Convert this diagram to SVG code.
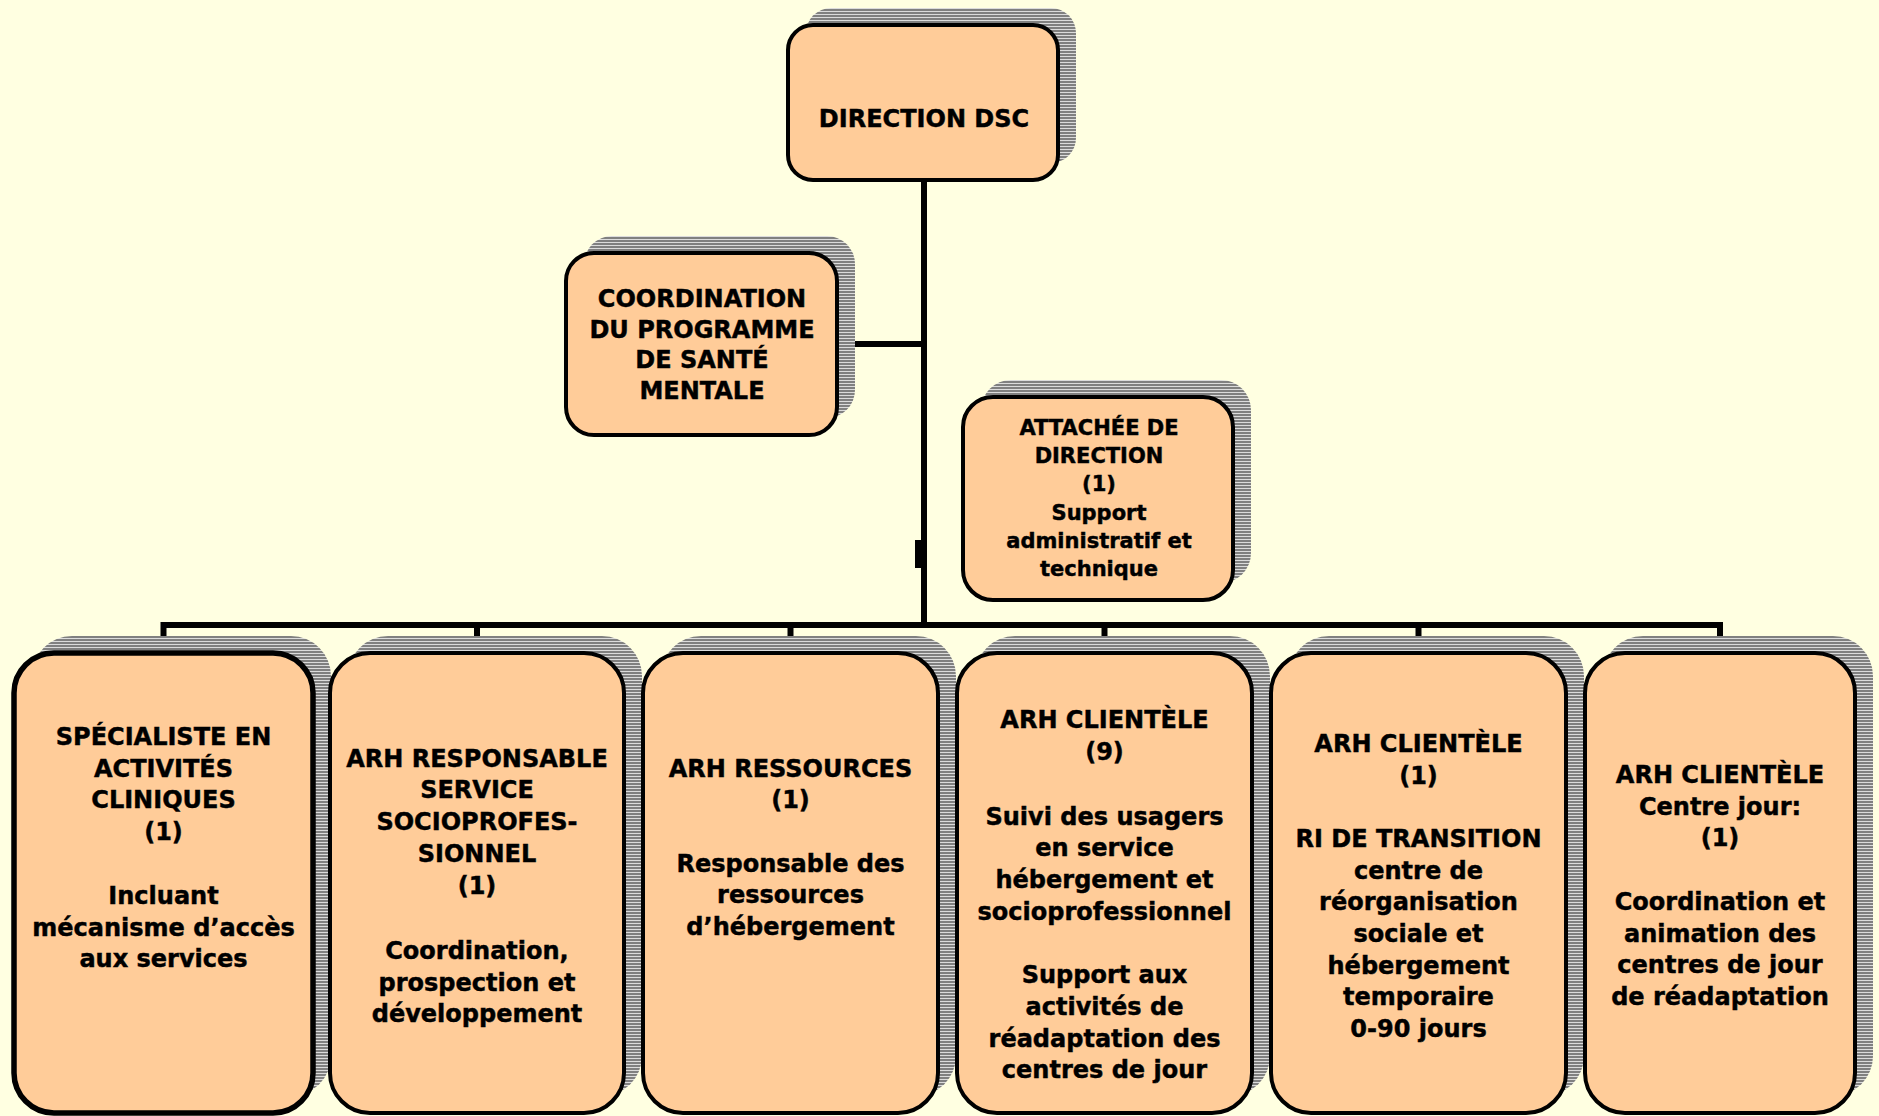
<svg xmlns="http://www.w3.org/2000/svg" width="1879" height="1116" viewBox="0 0 1879 1116">
<defs>
<pattern id="hatch" width="8" height="3" patternUnits="userSpaceOnUse">
<rect width="8" height="3" fill="#808080"/>
<rect y="2.2" width="8" height="0.8" fill="#f4f4f4"/>
</pattern>
<style>
.bg{fill:#FFFFE1}
.sh{fill:url(#hatch)}
.box{fill:#FFCC99;stroke:#000;stroke-width:4}
.thick{stroke-width:5.5}
.ln{stroke:#000;stroke-width:6;fill:none}
text{font-family:"DejaVu Sans",Verdana,sans-serif;font-weight:bold;font-size:24px;fill:#000;stroke:#000;stroke-width:0.45;text-anchor:middle}
.sm{font-size:21px}
</style>
</defs>
<rect class="bg" x="0" y="0" width="1879" height="1116"/>
<g id="connectors">
<line class="ln" x1="924" y1="180" x2="924" y2="628"/>
<line class="ln" x1="837" y1="344" x2="924" y2="344"/>
<rect x="915" y="540" width="8" height="28" fill="#000"/>
<line class="ln" x1="163.5" y1="625" x2="1720" y2="625"/>
<line class="ln" x1="163.5" y1="622" x2="163.5" y2="653"/>
<line class="ln" x1="477" y1="622" x2="477" y2="653"/>
<line class="ln" x1="790.5" y1="622" x2="790.5" y2="653"/>
<line class="ln" x1="1104.5" y1="622" x2="1104.5" y2="653"/>
<line class="ln" x1="1418.5" y1="622" x2="1418.5" y2="653"/>
<line class="ln" x1="1720" y1="622" x2="1720" y2="653"/>
</g>
<g id="direction">
<rect class="sh" x="806" y="8" width="270" height="155" rx="25"/>
<rect class="box" x="788" y="25" width="270" height="155" rx="25"/>
<text x="924" y="127">DIRECTION DSC</text>
</g>
<g id="coordination">
<rect class="sh" x="584" y="236" width="271" height="182" rx="28"/>
<rect class="box" x="566" y="253" width="271" height="182" rx="28"/>
<text x="702" y="307">COORDINATION</text>
<text x="702" y="338">DU PROGRAMME</text>
<text x="702" y="368">DE SANTÉ</text>
<text x="702" y="399">MENTALE</text>
</g>
<g id="attachee">
<rect class="sh" x="981" y="380" width="270" height="203" rx="30"/>
<rect class="box" x="963" y="397" width="270" height="203" rx="30"/>
<text class="sm" x="1099" y="435">ATTACHÉE DE</text>
<text class="sm" x="1099" y="463">DIRECTION</text>
<text class="sm" x="1099" y="491">(1)</text>
<text class="sm" x="1099" y="520">Support</text>
<text class="sm" x="1099" y="548">administratif et</text>
<text class="sm" x="1099" y="576">technique</text>
</g>
<g id="specialiste">
<rect class="sh" x="32" y="636" width="299" height="460" rx="40"/>
<rect class="box thick" x="14" y="653" width="299" height="460" rx="40"/>
<text x="163.5" y="745">SPÉCIALISTE EN</text>
<text x="163.5" y="777">ACTIVITÉS</text>
<text x="163.5" y="808">CLINIQUES</text>
<text x="163.5" y="840">(1)</text>
<text x="163.5" y="904">Incluant</text>
<text x="163.5" y="936">mécanisme d’accès</text>
<text x="163.5" y="967">aux services</text>
</g>
<g id="arh-socioprof">
<rect class="sh" x="348" y="636" width="294" height="460" rx="40"/>
<rect class="box" x="330" y="653" width="294" height="460" rx="40"/>
<text x="477" y="767">ARH RESPONSABLE</text>
<text x="477" y="798">SERVICE</text>
<text x="477" y="830">SOCIOPROFES-</text>
<text x="477" y="862">SIONNEL</text>
<text x="477" y="894">(1)</text>
<text x="477" y="959">Coordination,</text>
<text x="477" y="991">prospection et</text>
<text x="477" y="1022">développement</text>
</g>
<g id="arh-ressources">
<rect class="sh" x="661" y="636" width="295" height="460" rx="40"/>
<rect class="box" x="643" y="653" width="295" height="460" rx="40"/>
<text x="790.5" y="777">ARH RESSOURCES</text>
<text x="790.5" y="808">(1)</text>
<text x="790.5" y="872">Responsable des</text>
<text x="790.5" y="903">ressources</text>
<text x="790.5" y="935">d’hébergement</text>
</g>
<g id="arh-clientele-9">
<rect class="sh" x="975" y="636" width="295" height="460" rx="40"/>
<rect class="box" x="957" y="653" width="295" height="460" rx="40"/>
<text x="1104.5" y="728">ARH CLIENTÈLE</text>
<text x="1104.5" y="760">(9)</text>
<text x="1104.5" y="825">Suivi des usagers</text>
<text x="1104.5" y="856">en service</text>
<text x="1104.5" y="888">hébergement et</text>
<text x="1104.5" y="920">socioprofessionnel</text>
<text x="1104.5" y="983">Support aux</text>
<text x="1104.5" y="1015">activités de</text>
<text x="1104.5" y="1047">réadaptation des</text>
<text x="1104.5" y="1078">centres de jour</text>
</g>
<g id="arh-clientele-ri">
<rect class="sh" x="1289" y="636" width="295" height="460" rx="40"/>
<rect class="box" x="1271" y="653" width="295" height="460" rx="40"/>
<text x="1418.5" y="752">ARH CLIENTÈLE</text>
<text x="1418.5" y="784">(1)</text>
<text x="1418.5" y="847">RI DE TRANSITION</text>
<text x="1418.5" y="879">centre de</text>
<text x="1418.5" y="910">réorganisation</text>
<text x="1418.5" y="942">sociale et</text>
<text x="1418.5" y="974">hébergement</text>
<text x="1418.5" y="1005">temporaire</text>
<text x="1418.5" y="1037">0-90 jours</text>
</g>
<g id="arh-clientele-centre-jour">
<rect class="sh" x="1603" y="636" width="270" height="460" rx="40"/>
<rect class="box" x="1585" y="653" width="270" height="460" rx="40"/>
<text x="1720" y="783">ARH CLIENTÈLE</text>
<text x="1720" y="815">Centre jour:</text>
<text x="1720" y="846">(1)</text>
<text x="1720" y="910">Coordination et</text>
<text x="1720" y="942">animation des</text>
<text x="1720" y="973">centres de jour</text>
<text x="1720" y="1005">de réadaptation</text>
</g>
</svg>
